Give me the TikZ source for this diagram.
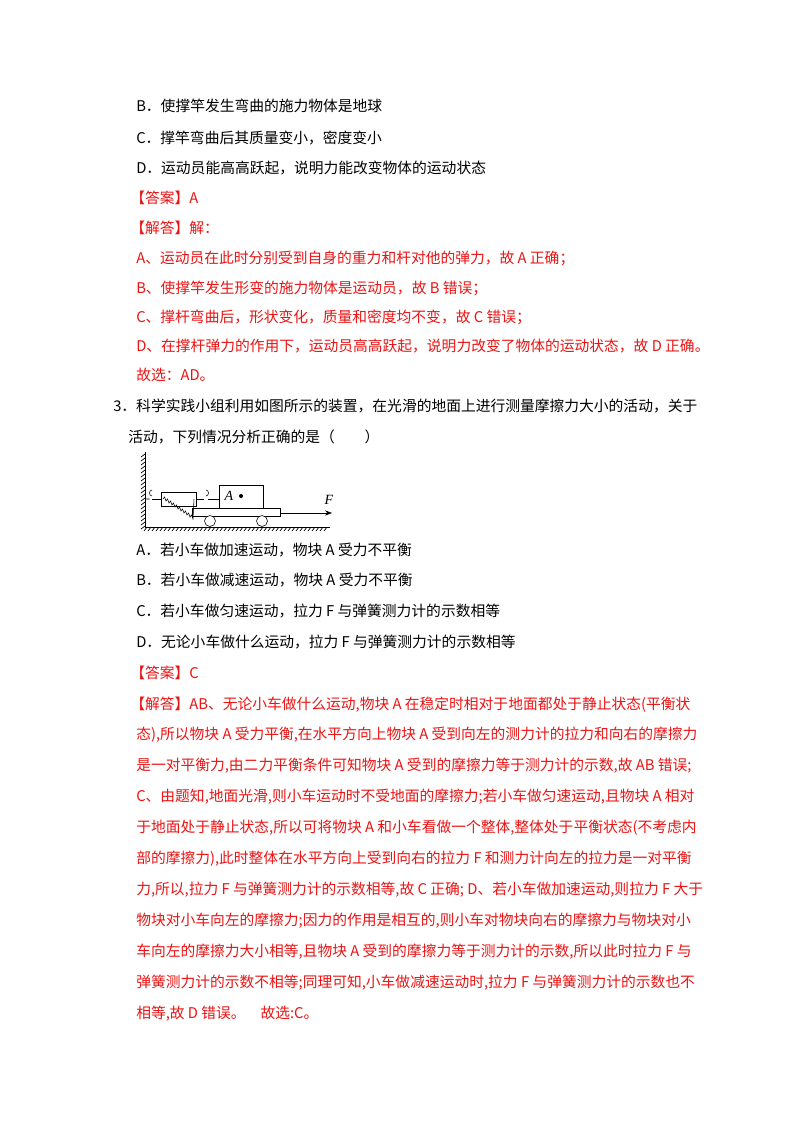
\documentclass[tikz,border=0pt]{standalone}
\usepackage{fontspec}
\setmainfont{Liberation Serif}
\newfontfamily\cjk{Noto Sans CJK SC}
\usetikzlibrary{patterns,arrows.meta}
\definecolor{ansred}{RGB}{235,20,20}
\tikzset{
  txt/.style={anchor=west,inner sep=0pt,font=\cjk\fontsize{10.5pt}{12pt}\selectfont},
  redtxt/.style={txt,text=ansred},
  hatch/.style={line width=0.5pt}
}
\begin{document}
\begin{tikzpicture}[x=0.025cm,y=-0.025cm]
\useasboundingbox[fill=white] (0,0) rectangle (800,1132);

% option lines
\node[txt] (b1) at (136,106) {B．使撑竿发生弯曲的施力物体是地球};
\node[txt] (c1) at (136,138) {C．撑竿弯曲后其质量变小，密度变小};
\node[txt] (d1) at (136,168) {D．运动员能高高跃起，说明力能改变物体的运动状态};
\node[redtxt] (ans1) at (130,198) {【答案】A};
\node[redtxt] (jd1) at (130,228) {【解答】解：};
\node[redtxt] at (136,258) {A、运动员在此时分别受到自身的重力和杆对他的弹力，故 A 正确；};
\node[redtxt] at (136,288) {B、使撑竿发生形变的施力物体是运动员，故 B 错误；};
\node[redtxt] at (136,317) {C、撑杆弯曲后，形状变化，质量和密度均不变，故 C 错误；};
\node[redtxt] at (136,346) {D、在撑杆弹力的作用下，运动员高高跃起，说明力改变了物体的运动状态，故 D 正确。};
\node[redtxt] at (136,375) {故选：AD。};

\node[txt] (q3) at (113,406) {3．科学实践小组利用如图所示的装置，在光滑的地面上进行测量摩擦力大小的活动，关于};
\node[txt] at (128,437) {活动，下列情况分析正确的是（\quad\quad）};

% figure
\draw (145,452) -- (145,527) -- (330,527);
\foreach \y in {454,458,...,526} \draw[hatch] (145,\y) -- (141,\y+3);
\foreach \x in {147,151,...,328} \draw[hatch] (\x,527) -- (\x-3,531);
\draw (152,496) arc (90:270:2.5 and 3) (145,499) -- (149.5,499);
\draw (152,499) -- (161,499);
\draw (161,492) rectangle (196,506);
\draw (163,499) \foreach \i in {0,...,9} { -- ++(1.5,-2) -- ++(1.5,4) } -- (194,499);
\draw (196,499) -- (204,499);
\draw (206,496) arc (90:-90:2.5 and 3);
\draw (208,499) -- (219,499);
\draw (219,485) rectangle (263,508);
\node[font=\itshape\fontsize{10pt}{12pt}\selectfont,inner sep=0pt] (la) at (229,496) {A};
\fill (241,496) circle (2);
\draw (192,508) rectangle (280,516);
\draw[fill=white] (210,521) circle (5.5);
\draw[fill=white] (262,521) circle (5.5);
\draw[-{Stealth[length=5pt]}] (280,513) -- (332,513);
\node[font=\itshape\fontsize{10pt}{12pt}\selectfont,inner sep=0pt] (lf) at (329,500) {F};

\node[txt] at (136,550) {A．若小车做加速运动，物块 A 受力不平衡};
\node[txt] at (136,580) {B．若小车做减速运动，物块 A 受力不平衡};
\node[txt] at (136,611) {C．若小车做匀速运动，拉力 F 与弹簧测力计的示数相等};
\node[txt] at (136,642) {D．无论小车做什么运动，拉力 F 与弹簧测力计的示数相等};
\node[redtxt] at (130,673) {【答案】C};
\node[redtxt] at (130,705) {【解答】AB、无论小车做什么运动,物块 A 在稳定时相对于地面都处于静止状态(平衡状};
\node[redtxt] at (136,735) {态),所以物块 A 受力平衡,在水平方向上物块 A 受到向左的测力计的拉力和向右的摩擦力};
\node[redtxt] at (136,766) {是一对平衡力,由二力平衡条件可知物块 A 受到的摩擦力等于测力计的示数,故 AB 错误;};
\node[redtxt] at (136,797) {C、由题知,地面光滑,则小车运动时不受地面的摩擦力;若小车做匀速运动,且物块 A 相对};
\node[redtxt] at (136,828) {于地面处于静止状态,所以可将物块 A 和小车看做一个整体,整体处于平衡状态(不考虑内};
\node[redtxt] at (136,859) {部的摩擦力),此时整体在水平方向上受到向右的拉力 F 和测力计向左的拉力是一对平衡};
\node[redtxt] at (136,890) {力,所以,拉力 F 与弹簧测力计的示数相等,故 C 正确; D、若小车做加速运动,则拉力 F 大于};
\node[redtxt] at (136,921) {物块对小车向左的摩擦力;因力的作用是相互的,则小车对物块向右的摩擦力与物块对小};
\node[redtxt] at (136,952) {车向左的摩擦力大小相等,且物块 A 受到的摩擦力等于测力计的示数,所以此时拉力 F 与};
\node[redtxt] at (136,983) {弹簧测力计的示数不相等;同理可知,小车做减速运动时,拉力 F 与弹簧测力计的示数也不};
\node[redtxt] at (136,1014) {相等,故 D 错误。\quad 故选:C。};
\end{tikzpicture}
\end{document}
